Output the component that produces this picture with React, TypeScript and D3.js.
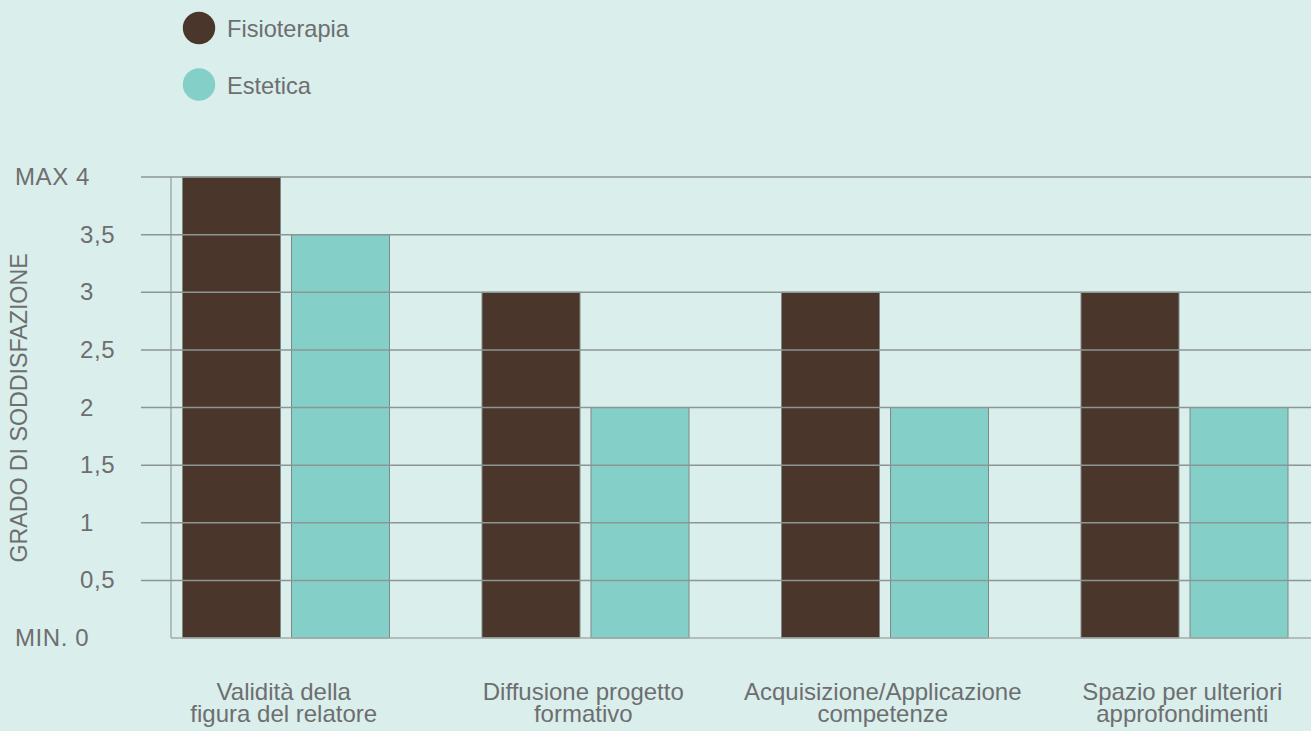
import React from "react";
import * as d3 from "d3";

const categories = [
  ["Validità della", "figura del relatore"],
  ["Diffusione progetto", "formativo"],
  ["Acquisizione/Applicazione", "competenze"],
  ["Spazio per ulteriori", "approfondimenti"],
];
const seriesNames = ["Fisioterapia", "Estetica"];
const fisioterapia = [4, 3, 3, 3];
const estetica = [3.5, 2, 2, 2];
const yTicks = [0, 0.5, 1, 1.5, 2, 2.5, 3, 3.5, 4];
const yTickLabels = ["MIN. 0", "0,5", "1", "1,5", "2", "2,5", "3", "3,5", "MAX 4"];
const yTitle = "GRADO DI SODDISFAZIONE";

const W = 1311;
const H = 731;
const colors = ["#4a362b", "#84cfc7"];
const textColor = "#6d6e70";
const font = "'Liberation Sans', Arial, sans-serif";

export default function App() {
  const seriesValues = [fisioterapia, estetica];
  const y = d3.scaleLinear().domain([0, 4]).range([638, 177]);
  const x0 = d3
    .scaleBand<number>()
    .domain(d3.range(categories.length))
    .range([136, 1334])
    .padding(0);
  const x1 = d3
    .scaleBand<number>()
    .domain(d3.range(seriesNames.length))
    .range([46.5, 253.5])
    .paddingInner(0.101)
    .paddingOuter(0);

  return (
    <svg
      width={W}
      height={H}
      style={{ position: "absolute", left: 0, top: 0, background: "#daeeeb", fontFamily: font }}
    >
      <rect x={0} y={0} width={W} height={H} fill="#daeeeb" />
      {/* legend */}
      {seriesNames.map((s, i) => (
        <g key={s}>
          <circle cx={199} cy={28 + i * 56.5} r={16.2} fill={colors[i]} />
          <text x={227} y={36.5 + i * 57.5} fontSize={23.6} fill={textColor}>
            {s}
          </text>
        </g>
      ))}
      {/* vertical axis line */}
      <line x1={171} x2={171} y1={y(4)} y2={y(0)} stroke="#a3adab" strokeWidth={1.5} />
      {/* bars */}
      {categories.map((c, ci) =>
        seriesValues.map((vals, si) => (
          <rect
            key={`${ci}-${si}`}
            x={(x0(ci) as number) + (x1(si) as number)}
            y={y(vals[ci])}
            width={x1.bandwidth()}
            height={y(0) - y(vals[ci])}
            fill={colors[si]}
            stroke="#7f8886"
            strokeWidth={1}
          />
        ))
      )}
      {/* gridlines */}
      {yTicks.map((t) => (
        <line
          key={t}
          x1={t === 0 ? 171 : 141}
          x2={W}
          y1={y(t)}
          y2={y(t)}
          stroke={t === 0 ? "#a3adab" : "#8c9694"}
          strokeWidth={1.5}
        />
      ))}
      {/* y tick labels */}
      {yTicks.map((t, i) => {
        const lbl = yTickLabels[i];
        const isWord = lbl.startsWith("MAX") || lbl.startsWith("MIN");
        return (
          <text
            key={t}
            x={isWord ? 15 : 80}
            y={y(t) + 8}
            fontSize={24}
            letterSpacing={0.6}
            fill={textColor}
          >
            {lbl}
          </text>
        );
      })}
      {/* y title */}
      <text
        transform={`translate(27,408) rotate(-90)`}
        textAnchor="middle"
        fontSize={23.2}
        fill={textColor}
      >
        {yTitle}
      </text>
      {/* category labels */}
      {categories.map((c, ci) => {
        const cx = (x0(ci) as number) + x0.bandwidth() / 2 - 2;
        return (
          <text key={ci} textAnchor="middle" fontSize={24} fill={textColor}>
            {c.map((line, li) => (
              <tspan key={li} x={cx} y={700 + li * 21.5}>
                {line}
              </tspan>
            ))}
          </text>
        );
      })}
    </svg>
  );
}
